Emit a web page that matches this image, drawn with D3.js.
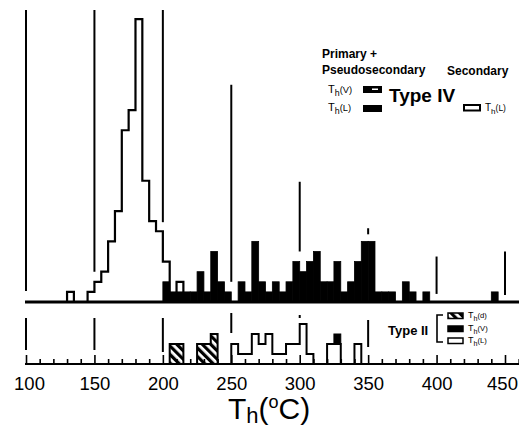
<!DOCTYPE html>
<html><head><meta charset="utf-8">
<script src="https://cdn.jsdelivr.net/npm/d3@7"></script>
<style>
html,body{margin:0;padding:0;background:#fff;}
svg{display:block;font-family:"Liberation Sans",Arial,Helvetica,sans-serif;}
</style></head><body>
<svg id="chart" width="519" height="428"></svg>
<script>
// ---------- DATA (Th in °C, 5 °C bins; counts) ----------
// Upper panel: Type IV
const secondaryBins   = [130,135,140,145,150,155,160,165,170,175,180,185,190,195,200,205,210];
const secondaryCounts = [1,  0,  0,  1,  2,  3,  6,  9,  17, 19, 28, 12, 8,  7,  4,  0,  2];

const primaryBins   = [200,205,210,215,220,225,230,235,240,245,250,255,260,265,270,275,280,285,290,295,
                       300,305,310,315,320,325,330,335,340,345,350,355,360,365,370,375,380,385,390,395,
                       400,405,410,415,420,425,430,435,440];
const primaryCounts = [2,  1,  1,  1,  1,  3,  1,  5,  2,  1,  0,  2,  1,  6,  2,  1,  2,  1,  2,  4,
                       3,  4,  5,  2,  2,  4,  1,  2,  4,  6,  6,  1,  1,  1,  0,  2,  1,  0,  1,  0,
                       0,  0,  0,  0,  0,  0,  0,  0,  1];

// Lower panel: Type II
const typeIIdBins   = [205,210,215,220,225,230,235];
const typeIIdCounts = [2,  2,  0,  0,  2,  2,  3];
const typeIILBins   = [250,255,260,265,270,275,280,285,290,295,300,305,310,315,320,325,330,335,340];
const typeIILCounts = [2,  1,  1,  3,  2,  3,  1,  1,  2,  2,  4,  1,  0,  0,  2,  2,  0,  0,  2];
const typeIIVBins   = [325];
const typeIIVCounts = [1];   // stacked on top of Th(L)

const tickLabels = [100,150,200,250,300,350,400,450];

// reference lines in the scanned figure (temperature, top and bottom in count units)
const upperRefT      = [100, 150, 200, 250, 300, 350, 400, 450];
const upperRefTop    = [28.9,28.9,28.9,21.5,11.9,7.3, 4.5, 5.0];
const upperRefBottom = [1.1, 3.0, 7.9, 2.0, 5.0, 6.7, 0.8, 0.7];
const lowerRefT      = [100, 150, 200, 250, 300, 350];
const lowerRefTop    = [4.6, 4.6, 4.6, 5.1, 4.9, 4.4];
const lowerRefBottom = [1.4, 1.4, 1.2, 3.1, 4.6, 1.7];

const binWidth = 5;

// ---------- CHART ----------
const svg = d3.select("#chart");
const x  = d3.scaleLinear().domain([100,450]).range([26,505]);
const yU = d3.scaleLinear().domain([0,28.9]).range([302,10]);
const yL = d3.scaleLinear().domain([0,1]).range([364,354]);

// hatch pattern
const defs = svg.append("defs");
const pat = defs.append("pattern").attr("id","hatch").attr("patternUnits","userSpaceOnUse")
  .attr("width",6).attr("height",6).attr("patternTransform","rotate(-45)");
pat.append("rect").attr("width",6).attr("height",6).attr("fill","#fff");
pat.append("rect").attr("width",3.2).attr("height",6).attr("fill","#000");

function stepPath(bins, counts, y){
  const p = d3.path();
  p.moveTo(x(bins[0]), y(0));
  bins.forEach((b,i)=>{
    p.lineTo(x(b), y(counts[i]));
    p.lineTo(x(b+binWidth), y(counts[i]));
  });
  p.lineTo(x(bins[bins.length-1]+binWidth), y(0));
  return p.toString();
}

// upper reference lines
svg.append("g").selectAll("line").data(upperRefT).join("line")
  .attr("x1",d=>x(d)).attr("x2",d=>x(d))
  .attr("y1",(d,i)=>yU(upperRefTop[i])).attr("y2",(d,i)=>yU(upperRefBottom[i]))
  .attr("stroke","#000").attr("stroke-width",2);

// secondary open histogram
svg.append("path").attr("d", stepPath(secondaryBins, secondaryCounts, yU))
  .attr("fill","#fff").attr("stroke","#000").attr("stroke-width",2.2).attr("stroke-linejoin","miter");

// primary black bars
svg.append("g").selectAll("rect").data(primaryBins.map((b,i)=>({b,c:primaryCounts[i]})).filter(d=>d.c>0))
  .join("rect")
  .attr("x",d=>x(d.b)).attr("width",d=>x(d.b+binWidth)-x(d.b))
  .attr("y",d=>yU(d.c)).attr("height",d=>yU(0)-yU(d.c))
  .attr("fill","#000").attr("stroke","#000").attr("stroke-width",0.8);

// upper baseline
svg.append("line").attr("x1",25).attr("x2",519).attr("y1",yU(0)).attr("y2",yU(0))
  .attr("stroke","#000").attr("stroke-width",3);

// lower reference lines
svg.append("g").selectAll("line").data(lowerRefT).join("line")
  .attr("x1",d=>x(d)).attr("x2",d=>x(d))
  .attr("y1",(d,i)=>yL(lowerRefTop[i])).attr("y2",(d,i)=>yL(lowerRefBottom[i]))
  .attr("stroke","#000").attr("stroke-width",2);

// lower histograms
svg.append("path").attr("d", stepPath(typeIIdBins, typeIIdCounts, yL))
  .attr("fill","url(#hatch)").attr("stroke","#000").attr("stroke-width",2);
svg.append("path").attr("d", stepPath(typeIILBins, typeIILCounts, yL))
  .attr("fill","#fff").attr("stroke","#000").attr("stroke-width",2);
svg.append("g").selectAll("rect").data(typeIIVBins.map((b,i)=>({b,c:typeIIVCounts[i],base:typeIILCounts[typeIILBins.indexOf(b)]})))
  .join("rect")
  .attr("x",d=>x(d.b)).attr("width",d=>x(d.b+binWidth)-x(d.b))
  .attr("y",d=>yL(d.base+d.c)).attr("height",d=>yL(d.base)-yL(d.base+d.c))
  .attr("fill","#000").attr("stroke","#000").attr("stroke-width",1);

// lower baseline + ticks
svg.append("line").attr("x1",25).attr("x2",519).attr("y1",yL(0)).attr("y2",yL(0))
  .attr("stroke","#000").attr("stroke-width",2);
const minorAxis = d3.axisTop(x).tickValues(d3.range(100,461,10)).tickSize(5).tickFormat("");
const gMinor = svg.append("g").attr("transform",`translate(0,${yL(0)})`).call(minorAxis);
gMinor.select(".domain").remove();
gMinor.selectAll("line").attr("stroke-width",1.6).attr("y2",d=>d%50===0?-9:-5);

// tick labels
const labAxis = d3.axisBottom(x).tickValues(tickLabels).tickSize(0).tickPadding(0);
const gLab = svg.append("g").attr("transform","translate(0,377)").call(labAxis);
gLab.select(".domain").remove();
gLab.selectAll("text").attr("font-size",18.5).attr("font-family","'Liberation Sans',Arial,sans-serif").attr("fill","#000")
  .attr("dx",(d,i)=>i===0?3:(i===tickLabels.length-1?-3:0));

// axis title
const title = svg.append("text").attr("x",228).attr("y",419).attr("font-size",30).attr("fill","#000");
title.append("tspan").text("T");
title.append("tspan").attr("font-size",22).attr("dy",4).text("h");
title.append("tspan").attr("dy",-4).text("(");
title.append("tspan").attr("font-size",18).attr("dy",-11).text("o");
title.append("tspan").attr("dy",11).text("C)");

// helper for T_h(x) labels
function thLabel(xp, yp, sub, fs){
  const t = svg.append("text").attr("x",xp).attr("y",yp).attr("font-size",fs).attr("fill","#000");
  t.append("tspan").text("T");
  t.append("tspan").attr("font-size",fs*0.8).attr("dy",fs*0.3).text("h");
  t.append("tspan").attr("dy",-fs*0.3).attr("font-size",fs*0.85).text("("+sub+")");
  return t;
}

// upper legend
svg.append("text").attr("x",322).attr("y",58).attr("font-size",12).attr("font-weight","bold").text("Primary +");
svg.append("text").attr("x",322).attr("y",74).attr("font-size",12).attr("font-weight","bold").text("Pseudosecondary");
svg.append("text").attr("x",447).attr("y",75).attr("font-size",12).attr("font-weight","bold").text("Secondary");
thLabel(328, 93, "V", 11);
thLabel(328, 111, "L", 11);
svg.append("rect").attr("x",363).attr("y",86).attr("width",19).attr("height",7).attr("fill","#000");
svg.append("rect").attr("x",372).attr("y",88.5).attr("width",6).attr("height",1.5).attr("fill","#fff");
svg.append("rect").attr("x",363).attr("y",105).attr("width",19).attr("height",7).attr("fill","#000");
svg.append("text").attr("x",389).attr("y",102).attr("font-size",19).attr("font-weight","bold").text("Type IV");
svg.append("rect").attr("x",464).attr("y",105).attr("width",16).attr("height",5.5).attr("fill","#fff").attr("stroke","#000").attr("stroke-width",2);
thLabel(485, 111, "L", 10);

// lower legend
svg.append("text").attr("x",388).attr("y",335).attr("font-size",13).attr("font-weight","bold").text("Type II");
svg.append("path").attr("d","M443,315 H437 V342 H443").attr("fill","none").attr("stroke","#000").attr("stroke-width",1.6);
svg.append("rect").attr("x",448).attr("y",313).attr("width",15).attr("height",5.5).attr("fill","url(#hatch)").attr("stroke","#000").attr("stroke-width",1.5);
svg.append("rect").attr("x",448).attr("y",326).attr("width",15).attr("height",5.5).attr("fill","#000").attr("stroke","#000").attr("stroke-width",1.5);
svg.append("rect").attr("x",448).attr("y",338).attr("width",15).attr("height",5.5).attr("fill","#fff").attr("stroke","#000").attr("stroke-width",1.5);
thLabel(468, 318, "d", 9);
thLabel(468, 331, "V", 9);
thLabel(468, 343, "L", 9);
</script>
</body></html>
